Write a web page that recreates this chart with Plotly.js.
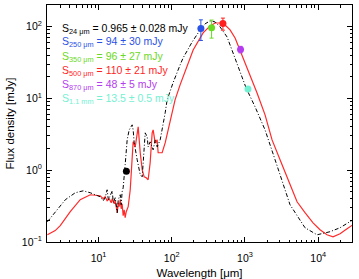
<!DOCTYPE html>
<html>
<head>
<meta charset="utf-8">
<script src="https://cdn.plot.ly/plotly-3.0.1.min.js"></script>
<style>html,body{margin:0;padding:0;background:#fff;}#chart{width:359px;height:279px;}</style>
</head>
<body>
<div id="chart"></div>
<script>
// Red model SED (wavelength um, flux mJy)
var redWave = [2.0,2.56,3.0,4.11,5.62,7.71,10.5,11.6,12.3,13.1,14.0,14.9,15.4,16.4,16.9,17.4,18.0,18.6,19.1,19.8,20.4,21.0,21.7,22.4,23.1,23.9,24.6,25.4,27.1,28.8,29.7,31.7,33.7,34.8,37.1,39.5,42.0,44.8,47.6,50.7,54.0,55.7,59.4,63.2,65.2,69.5,73.9,81.3,89.3,95.1,101,111,130,143,178,196,268,334,391,457,535,626,733,857,1069,1463,1881,2345,3015,4126,5145,6610,8510,10600,13200,15960,19900,24800,29900];
var redFlux = [0.126,0.144,0.169,0.264,0.388,0.455,0.441,0.400,0.427,0.375,0.400,0.352,0.400,0.341,0.375,0.320,0.256,0.352,0.310,0.388,0.290,0.341,0.232,0.281,0.218,0.264,0.290,0.310,0.533,1.40,2.48,2.11,3.64,4.01,1.75,1.01,0.809,0.783,0.735,1.27,3.31,3.64,2.40,2.64,1.75,1.75,1.75,2.40,3.64,4.56,5.89,9.53,15.4,19.9,36.6,47.2,81.5,102,112,112,105,89.7,69.4,47.2,26.6,11.9,5.89,2.64,1.40,0.626,0.363,0.256,0.185,0.148,0.126,0.118,0.130,0.153,0.174];
// Black dash-dot template SED
var blackWave = [2.0,2.56,3.52,4.81,6.18,7.71,10.5,11.6,12.3,13.1,13.6,14.4,15.4,15.9,16.9,18.0,18.6,19.8,20.4,21.0,21.7,23.1,24.6,26.2,28.8,29.7,30.7,33.7,37.1,39.5,42.0,43.4,46.2,47.6,50.7,55.7,59.4,63.2,69.5,73.9,81.3,86.5,104,130,143,190,244,285,334,391,457,570,667,912,1035,1374,1881,2577,4126,6610,9640,14500,19900,29900];
var blackFlux = [0.191,0.264,0.388,0.485,0.516,0.485,0.427,0.375,0.413,0.533,0.388,0.441,0.516,0.352,0.413,0.256,0.388,0.455,0.330,0.500,0.568,1.19,2.64,3.64,4.28,3.64,2.40,1.40,0.864,0.809,2.40,3.31,2.91,2.11,2.48,1.92,2.64,2.11,2.64,3.64,6.28,9.53,16.4,29.2,36.6,61.0,89.7,109,120,116,98.7,71.6,47.2,19.9,14.0,7.62,3.64,1.40,0.330,0.158,0.126,0.139,0.158,0.204];
// Photometry
var srcBand = ['24 μm','250 μm','350 μm','500 μm','870 μm','1.1 mm'];
var srcWave = [24, 250, 350, 500, 870, 1100];
var srcFlux = [0.965, 94, 96, 110, 48, 13.5];
var srcErr  = [0.028, 30, 27, 21, 5, 0.5];
var srcFluxText = ['0.965','94','96','110','48','13.5'];
var srcErrText  = ['0.028','30','27','21','5','0.5'];
var srcColor = ['#000000','#2a52e6','#6ad924','#ff1f1f','#b43cef','#74f0d2'];
// Axis ticks
var xTickVals = [10, 100, 1000, 10000];
var xTickText = ['10<sup>1</sup>','10<sup>2</sup>','10<sup>3</sup>','10<sup>4</sup>'];
var yTickVals = [0.1, 1, 10, 100];
var yTickText = ['10<sup>−1</sup>','10<sup>0</sup>','10<sup>1</sup>','10<sup>2</sup>'];

var traces = [
  {x: redWave, y: redFlux, type: 'scatter', mode: 'lines', line: {color: '#ff2a2a', width: 1.2}, hoverinfo: 'skip'},
  {x: blackWave, y: blackFlux, type: 'scatter', mode: 'lines', line: {color: '#000', width: 1, dash: '4px,2px,1px,2px'}, hoverinfo: 'skip'}
];
for (var i = 0; i < srcWave.length; i++) {
  traces.push({
    x: [srcWave[i]], y: [srcFlux[i]], type: 'scatter', mode: 'markers',
    marker: {color: srcColor[i], size: 7},
    error_y: {type: 'data', array: [srcErr[i]], visible: true, color: srcColor[i], thickness: 1, width: 2}
  });
}

var annotations = [];
var lineY = [0.900, 0.842, 0.782, 0.723, 0.664, 0.605];
for (var j = 0; j < srcBand.length; j++) {
  annotations.push({
    xref: 'paper', yref: 'paper', x: 0.041, y: lineY[j], xanchor: 'left', yanchor: 'middle',
    showarrow: false, align: 'left',
    text: 'S<sub>' + srcBand[j] + '</sub> = ' + srcFluxText[j] + ' ± ' + srcErrText[j] + ' mJy',
    font: {family: 'Liberation Sans, Arial, sans-serif', size: 10.5, color: srcColor[j]}
  });
}

var axisCommon = {
  type: 'log', showline: true, linecolor: '#000', linewidth: 1, mirror: 'allticks',
  ticks: 'inside', ticklen: 5, tickcolor: '#000', tickwidth: 1, showgrid: false, zeroline: false,
  tickmode: 'array',
  tickfont: {family: 'Liberation Sans, Arial, sans-serif', size: 10.5, color: '#000'},
  minor: {dtick: 'D1', ticks: 'inside', ticklen: 2.5, tickcolor: '#000', tickwidth: 1, showgrid: false}
};

var layout = {
  width: 359, height: 279,
  margin: {l: 47, r: 7, t: 5, b: 37},
  paper_bgcolor: '#fff', plot_bgcolor: '#fff',
  showlegend: false,
  font: {family: 'Liberation Sans, Arial, sans-serif', color: '#000'},
  xaxis: Object.assign({}, axisCommon, {
    range: [0.296, 4.462], tickvals: xTickVals, ticktext: xTickText, ticklabelstandoff: 6,
    title: {text: 'Wavelength [μm]', font: {size: 11.5}, standoff: 8}
  }),
  yaxis: Object.assign({}, axisCommon, {
    range: [-1, 2.30], tickvals: yTickVals, ticktext: yTickText, ticklabelstandoff: 2,
    title: {text: 'Flux density [mJy]', font: {size: 11.5}, standoff: 4}
  }),
  annotations: annotations
};

Plotly.newPlot('chart', traces, layout, {staticPlot: true, displayModeBar: false});
</script>
</body>
</html>
